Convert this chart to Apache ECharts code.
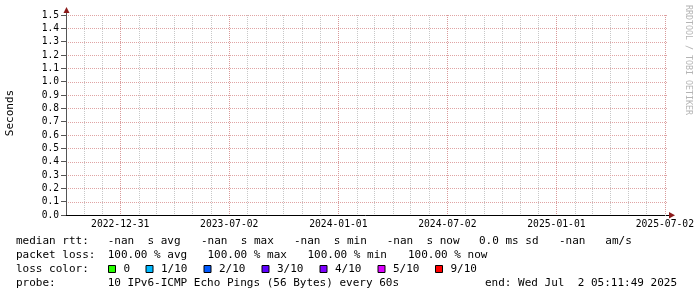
<!DOCTYPE html>
<html><head><meta charset="utf-8">
<script src="https://cdn.jsdelivr.net/npm/echarts@6/dist/echarts.min.js"></script>
<style>html,body{margin:0;padding:0;background:#fff}#c{width:697px;height:297px}</style>
</head><body><div id="c"></div>
<script>
// ---- data ----
const rangeStart = '2022-10-01T00:42:00Z';
const rangeEnd = '2025-07-02T05:11:49Z';
const majorDates = ['2022-12-31','2023-07-02','2024-01-01','2024-07-02','2025-01-01','2025-07-02'];
const minorDates = ['2022-11-01','2022-12-01','2023-02-01','2023-03-01','2023-04-01','2023-05-01','2023-06-01',
  '2023-08-01','2023-09-01','2023-10-01','2023-11-01','2023-12-01','2024-02-01','2024-03-01','2024-04-01',
  '2024-05-01','2024-06-01','2024-08-01','2024-09-01','2024-10-01','2024-11-01','2024-12-01','2025-02-01',
  '2025-03-01','2025-04-01','2025-05-01','2025-06-01'];
const yTickLabels = ['0.0','0.1','0.2','0.3','0.4','0.5','0.6','0.7','0.8','0.9','1.0','1.1','1.2','1.3','1.4','1.5'];
const medianRtt = [];   // all samples are -nan (100% loss)
const rttStats = ['-nan  s avg','-nan  s max','-nan  s min','-nan  s now','0.0 ms sd','-nan   am/s'];
const lossStats = ['100.00 % avg','100.00 % max','100.00 % min','100.00 % now'];
const lossLabels = ['0','1/10','2/10','3/10','4/10','5/10','9/10'];
const lossColors = ['#26ff00','#00b8ff','#0059ff','#5e00ff','#7e00ff','#dd00ff','#ff0000'];
const probeText = '10 IPv6-ICMP Echo Pings (56 Bytes) every 60s';
const endText = 'end: Wed Jul  2 05:11:49 2025';

// ---- layout ----
const toTs = s => Date.parse(s.length === 10 ? s + 'T00:00:00Z' : s);
const majorTs = majorDates.map(toTs);
const minorTs = minorDates.map(toTs);
const yVals = yTickLabels.map(Number);
const xMin = toTs(rangeStart), xMax = toTs(rangeEnd);
const MONO = 'DejaVu Sans Mono';
const FS = 11;
const rttX = [107.7, 201, 294, 386.7, 479, 559];
const lossX = [107.7, 207.5, 307.5, 408];
const boxX = [108, 145.5, 203.5, 261.5, 319.5, 377.5, 435];
const rowY = [241.5, 255.5, 269.5, 283.5];

const g = [];
function txt(x, y, s, align) {
  g.push({type:'text', x:x, y:y, silent:true,
    style:{text:s, fill:'#000', font:FS + 'px "' + MONO + '"', align:align || 'left', verticalAlign:'middle'}});
}
txt(16, rowY[0], 'median rtt:');
rttStats.forEach((s,i) => txt(rttX[i], rowY[0], s));
txt(16, rowY[1], 'packet loss:');
lossStats.forEach((s,i) => txt(lossX[i], rowY[1], s));
txt(16, rowY[2], 'loss color:');
lossLabels.forEach((s,i) => {
  g.push({type:'rect', silent:true, shape:{x:boxX[i]+0.5, y:rowY[2]-4, width:7, height:7},
    style:{fill:lossColors[i], stroke:'#000', lineWidth:1}});
  txt(boxX[i] + 15.5, rowY[2], s);
});
txt(16, rowY[3], 'probe:');
txt(107.7, rowY[3], probeText);
txt(677, rowY[3], endText, 'right');
g.push({type:'text', x:10, y:113, rotation:Math.PI/2, silent:true,
  style:{text:'Seconds', fill:'#000', font:'11px "' + MONO + '"', align:'center', verticalAlign:'middle'}});
g.push({type:'text', x:688, y:60, rotation:-Math.PI/2, silent:true,
  style:{text:'RRDTOOL / TOBI OETIKER', fill:'#b4b4b4', font:'8.3px "' + MONO + '"', align:'center', verticalAlign:'middle'}});
g.push({type:'polygon', silent:true, z:10, shape:{points:[[63.5,13],[69.5,13],[66.5,7]]}, style:{fill:'#8b1a1a'}});
g.push({type:'polygon', silent:true, z:10, shape:{points:[[669,212],[669,218.5],[675,215.2]]}, style:{fill:'#8b1a1a'}});
g.push({type:'line', silent:true, shape:{x1:666, y1:215.5, x2:669, y2:215.5}, style:{stroke:'#000', lineWidth:1}});
g.push({type:'line', silent:true, shape:{x1:66.5, y1:12, x2:66.5, y2:15}, style:{stroke:'#555', lineWidth:1}});

// grid lines drawn through the axis scales, snapped to whole pixels like rrdtool
function vGrid(color) {
  return function (params, api) {
    const cs = params.coordSys;
    const x = Math.round(api.coord([api.value(0), 0])[0]) + 0.5;
    return {type:'line', silent:true, shape:{x1:x, y1:cs.y, x2:x, y2:cs.y + cs.height},
      style:{stroke:color, lineWidth:1, lineDash:[1,1]}};
  };
}
function hGrid(color) {
  return function (params, api) {
    const cs = params.coordSys;
    const y = Math.round(api.coord([xMin, api.value(1)])[1]) + 0.5;
    return {type:'line', silent:true, shape:{x1:cs.x, y1:y, x2:cs.x + cs.width + 2, y2:y},
      style:{stroke:color, lineWidth:1, lineDash:[1,1]}};
  };
}

const chart = echarts.init(document.getElementById('c'), null, {renderer:'canvas'});
chart.setOption({
  animation:false,
  backgroundColor:'#fff',
  grid:{left:66, right:31, top:15, bottom:82, containLabel:false},
  xAxis:{type:'value', min:xMin, max:xMax, position:'bottom', z:5,
    axisLine:{show:true, onZero:false, lineStyle:{color:'#000', width:1}},
    axisTick:{show:false, customValues:majorTs},
    axisLabel:{show:true, customValues:majorTs, hideOverlap:false, margin:4,
      formatter:v => majorDates[majorTs.indexOf(v)] || '', fontFamily:MONO, fontSize:9.7, color:'#000'},
    splitLine:{show:false}},
  yAxis:{type:'value', min:yVals[0], max:yVals[yVals.length-1], interval:yVals[1]-yVals[0], z:5,
    axisLine:{show:true, onZero:false, lineStyle:{color:'#555', width:1}},
    axisTick:{show:true, length:5, lineStyle:{color:'#555'}},
    axisLabel:{margin:7, formatter:v => yTickLabels[Math.round(v*10)], fontFamily:MONO, fontSize:9.6, color:'#000'},
    splitLine:{show:false}},
  series:[
    {type:'custom', z:1, clip:false, silent:true, data:minorTs.map(t => [t, 0]), renderItem:vGrid('#c8c8c8')},
    {type:'custom', z:1, clip:false, silent:true, data:yVals.slice(1).map(v => [xMin, v]), renderItem:hGrid('#e0a4a4')},
    {type:'custom', z:1, clip:false, silent:true, data:majorTs.map(t => [t, 0]), renderItem:vGrid('#d89a9a')},
    {type:'line', z:3, data:medianRtt, showSymbol:false, lineStyle:{color:'#000'}}
  ],
  graphic:g
});
</script></body></html>
